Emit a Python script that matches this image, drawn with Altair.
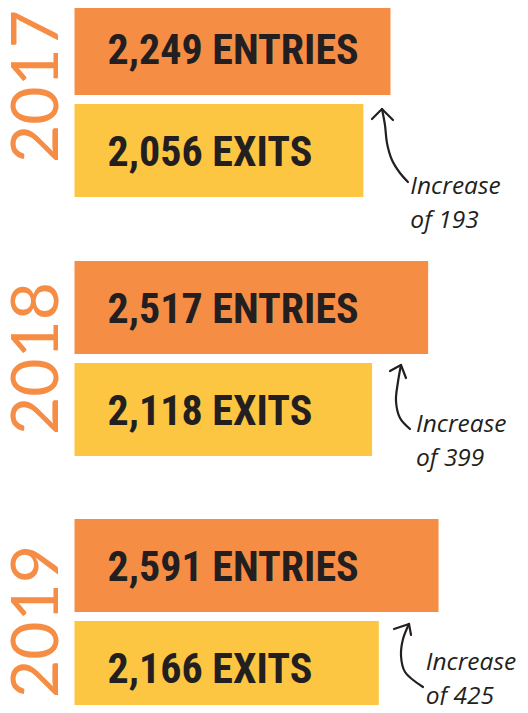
import altair as alt
import pandas as pd

# ---------------- data ----------------
YEARS = ["2017", "2018", "2019"]
ENTRIES = [2249, 2517, 2591]
EXITS = [2056, 2118, 2166]

# ---------------- styles ----------------
ORANGE = "#F68D45"
YELLOW = "#FCC642"
INK = "#231F20"
LABEL_FONT = "Liberation Sans Narrow, Roboto Condensed, DejaVu Sans Condensed, Roboto"
YEAR_FONT = "Lato"
NOTE_FONT = "Open Sans"

# ---------------- layout (page pixels) ----------------
W, H = 512, 697
MARGIN = 8
X0_PX = 74.5          # where value 0 sits on the page
PX_PER_UNIT = 0.1405  # bar length per entry/exit
GROUP_TOP = [2, 261, 519]
BAR_STEP = 102
BAR_H = 93
YEAR_LABEL_X = 30             # view px, centre line of rotated year
YEAR_LABEL_DY = [-13, 0, 5]   # shift of year label from group centre
ANNOT_OFF = [(47, 90), (44, 69), (47, 49)]   # text anchor from exits bar corner
# arrow shapes: offsets (px) from exits bar top-right corner
ARROW_SHAFT = [
    [(18.6, 5), (21.6, 21), (23.6, 39), (28.6, 56), (36.6, 69), (44.6, 78)],
    [(28.9, 2), (25.9, 19), (23.9, 38), (27.9, 55), (37.9, 66)],
    [(30.2, 3), (24.2, 18), (22.2, 35), (26.2, 51), (44.2, 66)],
]
ARROW_HEAD = [
    [(8.6, 15), (18.6, 5), (29.6, 16)],
    [(17.9, 8), (28.9, 2), (33.9, 15)],
    [(15.2, 8), (30.2, 3), (32.2, 14)],
]


def xv(px):
    return (px - X0_PX) / PX_PER_UNIT


def px(v):
    return X0_PX + v * PX_PER_UNIT


xs = alt.Scale(domain=[xv(MARGIN), xv(MARGIN + W)], nice=False, zero=False)
ys = alt.Scale(domain=[MARGIN, MARGIN + H], reverse=True, nice=False, zero=False)

bar_rows, year_rows, annot_rows, arrow_rows = [], [], [], []
for i, yr in enumerate(YEARS):
    top = GROUP_TOP[i]
    for b, (kind, val, suffix) in enumerate(
        [("Entries", ENTRIES[i], "ENTRIES"), ("Exits", EXITS[i], "EXITS")]
    ):
        t = top + b * BAR_STEP
        bar_rows.append(dict(year=yr, kind=kind, value=val, zero=0,
                             top=t, bottom=t + BAR_H, mid=t + BAR_H / 2,
                             label=f"{val:,} {suffix}"))
    year_rows.append(dict(year=yr, mid=top + (BAR_STEP + BAR_H) / 2 + YEAR_LABEL_DY[i]))
    cx = px(EXITS[i])
    cy = top + BAR_STEP
    diff = ENTRIES[i] - EXITS[i]
    annot_rows.append(dict(year=yr, x=xv(cx + ANNOT_OFF[i][0]), y=cy + ANNOT_OFF[i][1],
                           text=f"Increase\nof {diff}"))
    for part, pts in (("shaft", ARROW_SHAFT[i]), ("head", ARROW_HEAD[i])):
        for k, (dx, dy) in enumerate(pts):
            arrow_rows.append(dict(id=f"{yr}-{part}", part=part, idx=k,
                                   x=xv(cx + dx), y=cy + dy))

bars_df = pd.DataFrame(bar_rows)
years_df = pd.DataFrame(year_rows)
annot_df = pd.DataFrame(annot_rows)
arrow_df = pd.DataFrame(arrow_rows)

bars = alt.Chart(bars_df).mark_rect().encode(
    x=alt.X("zero:Q", scale=xs, axis=None),
    x2="value:Q",
    y=alt.Y("top:Q", scale=ys, axis=None),
    y2="bottom:Q",
    color=alt.Color("kind:N", scale=alt.Scale(domain=["Entries", "Exits"],
                                              range=[ORANGE, YELLOW]), legend=None),
)

labels = alt.Chart(bars_df).mark_text(
    font=LABEL_FONT, fontWeight="bold", fontSize=42, align="left",
    baseline="middle", dx=33, dy=2, color=INK,
).encode(
    x=alt.X("zero:Q", scale=xs, axis=None),
    y=alt.Y("mid:Q", scale=ys, axis=None),
    text="label:N",
)

year_labels = alt.Chart(years_df).mark_text(
    font=YEAR_FONT, fontWeight=400, fontSize=66, angle=270, align="center",
    baseline="middle", color=ORANGE,
).encode(
    x=alt.value(YEAR_LABEL_X),
    y=alt.Y("mid:Q", scale=ys, axis=None),
    text="year:N",
)

annots = alt.Chart(annot_df).mark_text(
    font=NOTE_FONT, fontStyle="italic", fontWeight=400, fontSize=24.5,
    lineBreak="\n", lineHeight=34, align="left", baseline="alphabetic", color=INK,
).encode(
    x=alt.X("x:Q", scale=xs, axis=None),
    y=alt.Y("y:Q", scale=ys, axis=None),
    text="text:N",
)

shafts = alt.Chart(arrow_df).transform_filter(alt.datum.part == "shaft").mark_line(
    interpolate="catmull-rom", strokeWidth=2.2, color=INK, strokeCap="round",
).encode(
    x=alt.X("x:Q", scale=xs, axis=None),
    y=alt.Y("y:Q", scale=ys, axis=None),
    detail="id:N",
    order="idx:Q",
)

heads = alt.Chart(arrow_df).transform_filter(alt.datum.part == "head").mark_line(
    strokeWidth=2.2, color=INK, strokeCap="round", strokeJoin="round",
).encode(
    x=alt.X("x:Q", scale=xs, axis=None),
    y=alt.Y("y:Q", scale=ys, axis=None),
    detail="id:N",
    order="idx:Q",
)

chart = alt.layer(bars, labels, year_labels, shafts, heads, annots).properties(
    width=W, height=H, padding=0, autosize=alt.AutoSizeParams(type="none"),
    background="white",
).configure_view(stroke=None)

chart.save("out.html", embed_options={"renderer": "svg", "actions": False})
